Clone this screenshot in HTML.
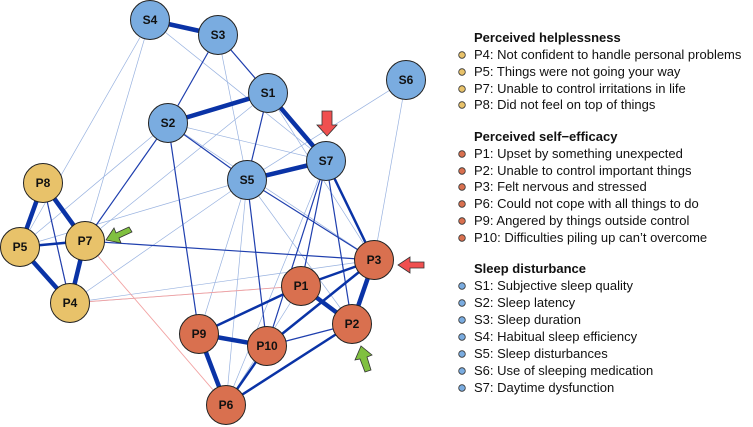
<!DOCTYPE html><html><head><style>body{margin:0;background:#fff}svg{display:block}text{font-family:"Liberation Sans",sans-serif}</style></head><body>
<svg width="753" height="427" viewBox="0 0 753 427">
<g stroke-linecap="round">
<g stroke="#7f9fd8" stroke-width="0.7" opacity="0.8">
<line x1="150" y1="20" x2="326" y2="161"/><line x1="150" y1="20" x2="85" y2="241"/><line x1="218" y1="35" x2="168" y2="123"/><line x1="218" y1="35" x2="247" y2="180"/>
<line x1="406" y1="80" x2="247" y2="180"/><line x1="406" y1="80" x2="374" y2="260"/><line x1="168" y1="123" x2="374" y2="260"/><line x1="168" y1="123" x2="326" y2="161"/>
<line x1="168" y1="123" x2="20" y2="247"/><line x1="168" y1="123" x2="85" y2="241"/><line x1="268" y1="93" x2="85" y2="241"/><line x1="247" y1="180" x2="70" y2="303"/>
<line x1="247" y1="180" x2="20" y2="247"/><line x1="247" y1="180" x2="226" y2="405"/><line x1="247" y1="180" x2="199" y2="334"/><line x1="247" y1="180" x2="352" y2="324"/>
<line x1="326" y1="161" x2="267" y2="346"/><line x1="326" y1="161" x2="226" y2="405"/><line x1="301" y1="286" x2="70" y2="303"/><line x1="374" y1="260" x2="70" y2="303"/>
<line x1="301" y1="286" x2="352" y2="324"/><line x1="374" y1="260" x2="267" y2="346"/><line x1="267" y1="346" x2="352" y2="324"/><line x1="150" y1="20" x2="20" y2="247"/>
<line x1="268" y1="93" x2="374" y2="260"/><line x1="301" y1="286" x2="226" y2="405"/></g>
<g stroke="#f2a3a3" stroke-width="0.9"><line x1="85" y1="241" x2="226" y2="405"/><line x1="70" y1="303" x2="301" y2="286"/><line x1="43" y1="183" x2="70" y2="303"/><line x1="20" y1="247" x2="70" y2="303"/></g>
<g stroke="#1f3fae" stroke-width="1.2">
<line x1="218" y1="35" x2="268" y2="93"/><line x1="218" y1="35" x2="168" y2="123"/><line x1="268" y1="93" x2="247" y2="180"/><line x1="168" y1="123" x2="199" y2="334"/>
<line x1="247" y1="180" x2="374" y2="260"/><line x1="247" y1="180" x2="267" y2="346"/><line x1="326" y1="161" x2="301" y2="286"/><line x1="326" y1="161" x2="352" y2="324"/>
<line x1="85" y1="241" x2="374" y2="260"/><line x1="43" y1="183" x2="70" y2="303"/><line x1="20" y1="247" x2="70" y2="303"/><line x1="168" y1="123" x2="85" y2="241"/>
<line x1="267" y1="346" x2="352" y2="324"/><line x1="374" y1="260" x2="352" y2="324" /><line x1="168" y1="123" x2="247" y2="180"/><line x1="326" y1="161" x2="267" y2="346"/></g>
<g stroke="#0a33a6" stroke-width="2.5">
<line x1="374" y1="260" x2="301" y2="286"/><line x1="374" y1="260" x2="267" y2="346"/><line x1="301" y1="286" x2="199" y2="334"/><line x1="352" y1="324" x2="226" y2="405"/>
<line x1="267" y1="346" x2="226" y2="405"/><line x1="326" y1="161" x2="374" y2="260"/><line x1="85" y1="241" x2="20" y2="247"/><line x1="268" y1="93" x2="326" y2="161"/></g>
<g stroke="#0a33a6" stroke-width="4.5">
<line x1="150" y1="20" x2="218" y2="35"/><line x1="268" y1="93" x2="168" y2="123"/><line x1="268" y1="93" x2="326" y2="161"/><line x1="247" y1="180" x2="326" y2="161"/>
<line x1="43" y1="183" x2="20" y2="247"/><line x1="43" y1="183" x2="85" y2="241"/><line x1="85" y1="241" x2="70" y2="303"/><line x1="20" y1="247" x2="70" y2="303"/>
<line x1="301" y1="286" x2="352" y2="324"/><line x1="374" y1="260" x2="352" y2="324"/><line x1="199" y1="334" x2="267" y2="346"/><line x1="199" y1="334" x2="226" y2="405"/></g>
</g>
<g stroke="#222" stroke-width="1" font-weight="bold" font-size="12" text-anchor="middle">
<g fill="#7aace0">
<circle cx="150" cy="20" r="19.5"/><circle cx="218" cy="35" r="19.5"/><circle cx="268" cy="93" r="19.5"/><circle cx="406" cy="80" r="19.5"/><circle cx="168" cy="123" r="19.5"/><circle cx="326" cy="161" r="19.5"/><circle cx="247" cy="180" r="19.5"/></g>
<g fill="#e8c26a"><circle cx="43" cy="183" r="19.5"/><circle cx="20" cy="247" r="19.5"/><circle cx="85" cy="241" r="19.5"/><circle cx="70" cy="303" r="19.5"/></g>
<g fill="#d9704f"><circle cx="374" cy="260" r="19.5"/><circle cx="301" cy="286" r="19.5"/><circle cx="352" cy="324" r="19.5"/><circle cx="199" cy="334" r="19.5"/><circle cx="267" cy="346" r="19.5"/><circle cx="226" cy="405" r="19.5"/></g>
<g stroke="none" fill="#111">
<text x="150" y="24">S4</text><text x="218" y="39">S3</text><text x="268" y="97">S1</text><text x="406" y="84">S6</text><text x="168" y="127">S2</text><text x="326" y="165">S7</text><text x="247" y="184">S5</text>
<text x="43" y="187">P8</text><text x="20" y="251">P5</text><text x="85" y="245">P7</text><text x="70" y="307">P4</text>
<text x="374" y="264">P3</text><text x="301" y="290">P1</text><text x="352" y="328">P2</text><text x="199" y="338">P9</text><text x="267" y="350">P10</text><text x="226" y="409">P6</text></g>
</g>
<g stroke="#333" stroke-width="0.8">
<polygon fill="#f05050" points="322,111 332,111 332,125 337,125 327,136 317,125 322,125"/>
<polygon fill="#f05050" points="424,262 424,268 410,268 410,273 398,265 410,257 410,262"/>
<polygon fill="#80c040" points="129,227 132,232 119,238 121,243 106,240 114,228 116,233"/>
<polygon fill="#80c040" points="365,372 371,370 367,357 372,355 361,346 355,360 360,359"/>
</g>
<g font-size="13" fill="#111">
<text x="474" y="42" font-weight="bold">Perceived helplessness</text>
<text x="474" y="59">P4: Not confident to handle personal problems</text>
<text x="474" y="76">P5: Things were not going your way</text>
<text x="474" y="93">P7: Unable to control irritations in life</text>
<text x="474" y="109">P8: Did not feel on top of things</text>
<text x="474" y="141" font-weight="bold">Perceived self−efficacy</text>
<text x="474" y="158">P1: Upset by something unexpected</text>
<text x="474" y="175">P2: Unable to control important things</text>
<text x="474" y="191">P3: Felt nervous and stressed</text>
<text x="474" y="208">P6: Could not cope with all things to do</text>
<text x="474" y="225">P9: Angered by things outside control</text>
<text x="474" y="242">P10: Difficulties piling up can’t overcome</text>
<text x="474" y="273" font-weight="bold">Sleep disturbance</text>
<text x="474" y="290">S1: Subjective sleep quality</text>
<text x="474" y="307">S2: Sleep latency</text>
<text x="474" y="324">S3: Sleep duration</text>
<text x="474" y="341">S4: Habitual sleep efficiency</text>
<text x="474" y="358">S5: Sleep disturbances</text>
<text x="474" y="375">S6: Use of sleeping medication</text>
<text x="474" y="392">S7: Daytime dysfunction</text>
</g>
<g stroke="#333" stroke-width="0.8">
<g fill="#e8c26a"><circle cx="462" cy="55" r="3.3"/><circle cx="462" cy="72" r="3.3"/><circle cx="462" cy="89" r="3.3"/><circle cx="462" cy="105" r="3.3"/></g>
<g fill="#d9704f"><circle cx="462" cy="154" r="3.3"/><circle cx="462" cy="171" r="3.3"/><circle cx="462" cy="187" r="3.3"/><circle cx="462" cy="204" r="3.3"/><circle cx="462" cy="221" r="3.3"/><circle cx="462" cy="238" r="3.3"/></g>
<g fill="#7aace0"><circle cx="462" cy="286" r="3.3"/><circle cx="462" cy="303" r="3.3"/><circle cx="462" cy="320" r="3.3"/><circle cx="462" cy="337" r="3.3"/><circle cx="462" cy="354" r="3.3"/><circle cx="462" cy="371" r="3.3"/><circle cx="462" cy="388" r="3.3"/></g>
</g>
</svg></body></html>
